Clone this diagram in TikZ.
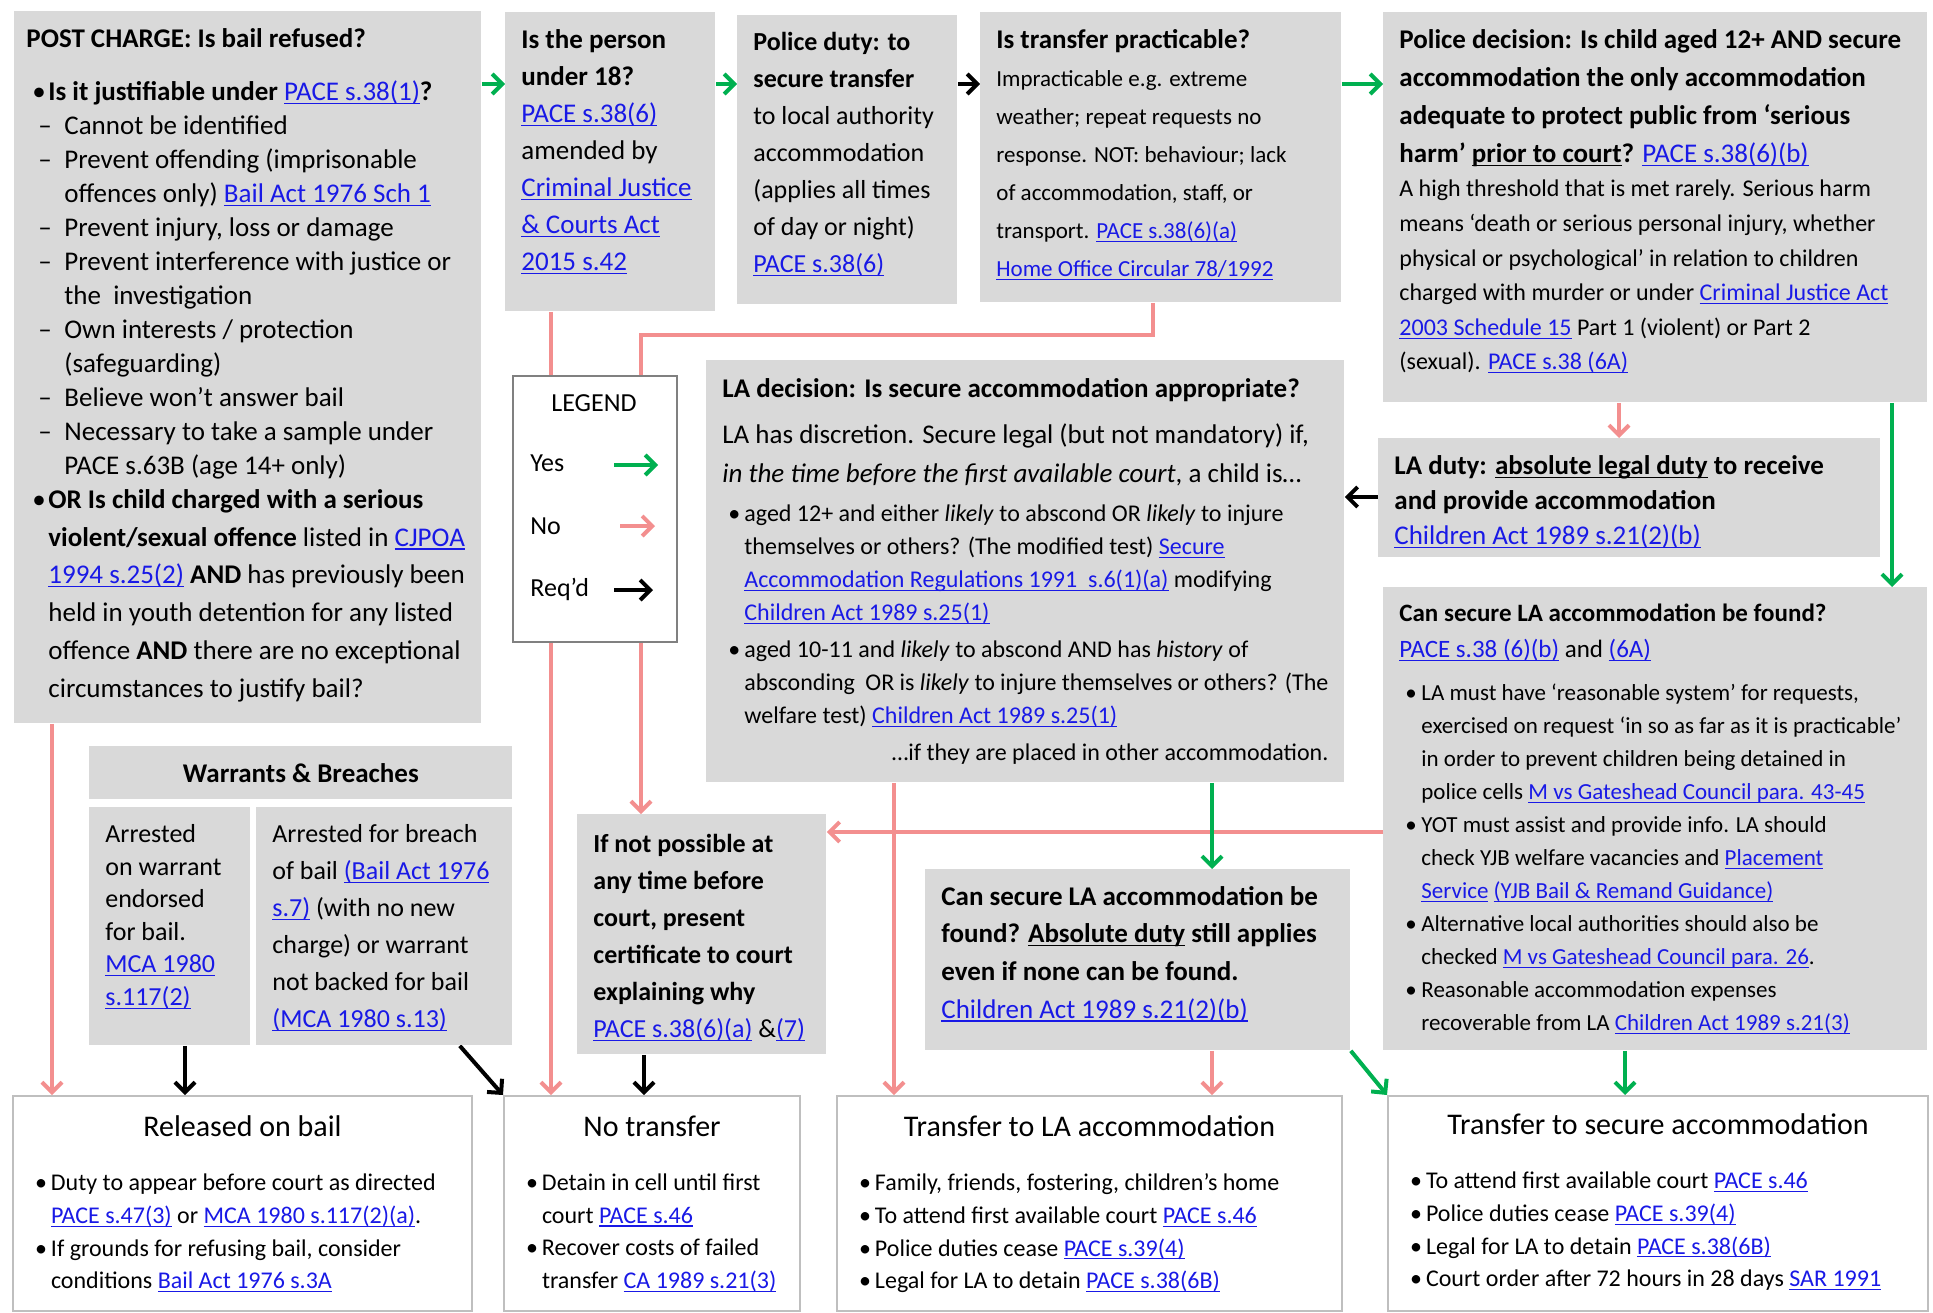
\documentclass[tikz,border=0pt]{standalone}
\usepackage{fontspec}
\setmainfont{Carlito}
\usetikzlibrary{arrows.meta,positioning,backgrounds}

\definecolor{boxgrey}{RGB}{217,217,217}
\definecolor{linkblue}{RGB}{25,25,230}
\definecolor{yesgreen}{RGB}{0,176,80}
\definecolor{nopink}{RGB}{243,143,143}
\definecolor{framegrey}{RGB}{191,191,191}
\definecolor{legendgrey}{RGB}{128,128,128}

\newcommand{\ulin}[1]{\leavevmode\setbox0\hbox{#1}\rlap{\rule[-1.7pt]{\wd0}{0.6pt}}\box0\relax}
\newcommand{\lnk}[1]{\leavevmode{\color{linkblue}\ulin{#1}}}
\newcommand{\boxtext}[3]{\parbox[t][#2][t]{#1}{\raggedright\parskip=0pt\relax\vspace*{2.5pt}#3}}
\newcommand{\bul}{\hspace*{3pt}\makebox[8pt][l]{\textbullet}}
\newcommand{\hangb}{\hspace*{11pt}}
\newcommand{\dsh}{\hspace*{6pt}\makebox[13pt][l]{--}}
\newcommand{\hangd}{\hspace*{19pt}}

\tikzset{>={Straight Barb[length=5pt,width=10pt]}}

\begin{document}
\begin{tikzpicture}[x=0.5pt, y=-0.5pt,
    gbox/.style={fill=boxgrey, anchor=north west, inner xsep=8pt, inner ysep=6pt,
        font=\fontsize{13.5}{17}\selectfont},
    wbox/.style={draw=framegrey, line width=1pt, fill=white, anchor=north west,
        inner xsep=8pt, inner ysep=6pt, font=\fontsize{12}{16.3}\selectfont},
    arr/.style={line width=2pt, ->},
    yesarrow/.style={arr, draw=yesgreen},
    noarrow/.style={arr, draw=nopink},
    reqarrow/.style={arr, draw=black},
    lgtext/.style={anchor=west, inner sep=0pt, font=\fontsize{13}{15}\selectfont}]
    \useasboundingbox (0,0) rectangle (1933,1312);

    % top row
    \node[gbox, inner xsep=6pt] (post) at (14,11) {\boxtext{221.5pt}{344pt}{%
        \textbf{POST CHARGE: Is bail refused?}\par
        \vspace{9.5pt}
        \bul\textbf{Is it justifiable under} \lnk{PACE s.38(1)}\textbf{?}\\
        \dsh Cannot be identified\\
        \dsh Prevent offending (imprisonable\\
        \hangd offences only) \lnk{Bail Act 1976 Sch 1}\\
        \dsh Prevent injury, loss or damage\\
        \dsh Prevent interference with justice or\\
        \hangd the\ \ investigation\\
        \dsh Own interests / protection\\
        \hangd (safeguarding)\\
        \dsh Believe won't answer bail\\
        \dsh Necessary to take a sample under\\
        \hangd PACE s.63B (age 14+ only)\par
        \fontsize{13.5}{18.9}\selectfont\vspace{-1.9pt}
        \bul\textbf{OR Is child charged with a serious}\\
        \hangb\textbf{violent/sexual offence} listed in \lnk{CJPOA}\\
        \hangb\lnk{1994 s.25(2)} \textbf{AND} has previously been\\
        \hangb held in youth detention for any listed\\
        \hangb offence \textbf{AND} there are no exceptional\\
        \hangb circumstances to justify bail?}};
    \node[gbox] (u18) at (505,12) {\boxtext{89pt}{137.5pt}{%
        \fontsize{13.5}{18.5}\selectfont
        \textbf{Is the person}\\
        \textbf{under 18?}\\
        \lnk{PACE s.38(6)}\\
        amended by\\
        \lnk{Criminal Justice}\\
        \lnk{\& Courts Act}\\
        \lnk{2015 s.42}}};
    \node[gbox] (duty) at (737,15) {\boxtext{94pt}{132.5pt}{%
        \fontsize{13}{18.5}\selectfont
        \textbf{Police duty: to}\\
        \textbf{secure transfer}\\
        to local authority\\
        accommodation\\
        (applies all times\\
        of day or night)\\
        \lnk{PACE s.38(6)}}};
    \node[gbox] (pract) at (980,12) {\boxtext{164.5pt}{133pt}{%
        \textbf{Is transfer practicable?}\par
        \fontsize{11.5}{19}\selectfont
        Impracticable e.g. extreme\\
        weather; repeat requests no\\
        response. NOT: behaviour; lack\\
        of accommodation, staff, or\\
        transport. \lnk{PACE s.38(6)(a)}\\
        \lnk{Home Office Circular 78/1992}}};
    \node[gbox] (pdec) at (1383,12) {\boxtext{256pt}{183pt}{%
        \fontsize{13.5}{19}\selectfont
        \textbf{Police decision: Is child aged 12+ AND secure}\\
        \textbf{accommodation the only accommodation}\\
        \textbf{adequate to protect public from `serious}\\
        \textbf{harm' \ulin{prior to court}?} \lnk{PACE s.38(6)(b)}\par
        \fontsize{12}{17.3}\selectfont
        A high threshold that is met rarely. Serious harm\\
        means `death or serious personal injury, whether\\
        physical or psychological' in relation to children\\
        charged with murder or under \lnk{Criminal Justice Act}\\
        \lnk{2003 Schedule 15} Part 1 (violent) or Part 2\\
        (sexual). \lnk{PACE s.38 (6A)}}};

    % middle row
    \node[gbox] (ladec) at (706,360) {\boxtext{303pt}{199pt}{%
        \vspace*{0.5pt}
        \textbf{LA decision: Is secure accommodation appropriate?}\par
        \fontsize{13.5}{19.5}\selectfont\vspace{3.5pt}
        LA has discretion. Secure legal (but not mandatory) if,\\
        \textit{in the time before the first available court}, a child is\dots\par
        \fontsize{12}{16.5}\selectfont\vspace{3pt}
        \bul aged 12+ and either \textit{likely} to abscond OR \textit{likely} to injure\\
        \hangb themselves or others? (The modified test) \lnk{Secure}\\
        \hangb\lnk{Accommodation Regulations 1991\ \ s.6(1)(a)} modifying\\
        \hangb\lnk{Children Act 1989 s.25(1)}\par
        \vspace{2pt}
        \bul aged 10-11 and \textit{likely} to abscond AND has \textit{history} of\\
        \hangb absconding\ \ OR is \textit{likely} to injure themselves or others? (The\\
        \hangb welfare test) \lnk{Children Act 1989 s.25(1)}\par
        \vspace{2pt}
        {\raggedleft\dots if they are placed in other accommodation.\par}}};
    \node[gbox] (laduty) at (1378,438) {\boxtext{235pt}{47.5pt}{%
        \fontsize{13.5}{17.5}\selectfont
        \textbf{LA duty: \ulin{absolute legal duty} to receive}\\
        \textbf{and provide accommodation}\\
        \lnk{Children Act 1989 s.21(2)(b)}}};
    \node[gbox] (secr) at (1383,587) {\boxtext{256pt}{219.5pt}{%
        \fontsize{12.5}{18}\selectfont
        \textbf{Can secure LA accommodation be found?}\\
        \lnk{PACE s.38 (6)(b)} and \lnk{(6A)}\par
        \fontsize{11.5}{16.5}\selectfont\vspace{5pt}
        \bul LA must have `reasonable system' for requests,\\
        \hangb exercised on request `in so as far as it is practicable'\\
        \hangb in order to prevent children being detained in\\
        \hangb police cells \lnk{M vs Gateshead Council para. 43-45}\\
        \bul YOT must assist and provide info. LA should\\
        \hangb check YJB welfare vacancies and \lnk{Placement}\\
        \hangb\lnk{Service} \lnk{(YJB Bail \& Remand Guidance)}\\
        \bul Alternative local authorities should also be\\
        \hangb checked \lnk{M vs Gateshead Council para. 26}.\\
        \bul Reasonable accommodation expenses\\
        \hangb recoverable from LA \lnk{Children Act 1989 s.21(3)}}};

    % warrants and breaches
    \node[gbox, minimum width=211.5pt, minimum height=26.5pt, inner sep=0pt,
        font=\bfseries\fontsize{13.5}{17}\selectfont] (wbhead) at (89,746) {Warrants \& Breaches};
    \node[gbox] (warr) at (89,807) {\boxtext{64.5pt}{107pt}{%
        \fontsize{13}{16.3}\selectfont
        Arrested\\
        on warrant\\
        endorsed\\
        for bail.\\
        \lnk{MCA 1980}\\
        \lnk{s.117(2)}}};
    \node[gbox] (breach) at (256,807) {\boxtext{112pt}{107pt}{%
        \fontsize{13}{18.5}\selectfont
        Arrested for breach\\
        of bail \lnk{(Bail Act 1976}\\
        \lnk{s.7)} (with no new\\
        charge) or warrant\\
        not backed for bail\\
        \lnk{(MCA 1980 s.13)}}};
    \node[gbox] (notposs) at (577,814) {\boxtext{108.5pt}{108pt}{%
        \vspace*{1.5pt}
        \fontsize{13}{18.5}\selectfont
        \textbf{If not possible at}\\
        \textbf{any time before}\\
        \textbf{court, present}\\
        \textbf{certificate to court}\\
        \textbf{explaining why}\\
        \lnk{PACE s.38(6)(a)} \&\lnk{(7)}}};
    \node[gbox] (mids) at (925,869) {\boxtext{196.5pt}{78.5pt}{%
        \fontsize{13.5}{18.8}\selectfont
        \textbf{Can secure LA accommodation be}\\
        \textbf{found? \ulin{Absolute duty} still applies}\\
        \textbf{even if none can be found.}\\
        \lnk{Children Act 1989 s.21(2)(b)}}};

    % outcomes
    \node[wbox] (bail) at (12,1095) {\boxtext{213.5pt}{95.5pt}{%
        \vspace*{1.5pt}
        {\centering\fontsize{15}{18}\selectfont Released on bail\par}
        \vspace{10.7pt}
        \bul Duty to appear before court as directed\\
        \hangb\lnk{PACE s.47(3)} or \lnk{MCA 1980 s.117(2)(a)}.\\
        \bul If grounds for refusing bail, consider\\
        \hangb conditions \lnk{Bail Act 1976 s.3A}}};
    \node[wbox] (notr) at (503,1095) {\boxtext{132pt}{95.5pt}{%
        \vspace*{1.5pt}
        {\centering\fontsize{15}{18}\selectfont No transfer\par}
        \vspace{10.7pt}
        \bul Detain in cell until first\\
        \hangb court \lnk{PACE s.46}\\
        \bul Recover costs of failed\\
        \hangb transfer \lnk{CA 1989 s.21(3)}}};
    \node[wbox] (trla) at (836,1095) {\boxtext{236.5pt}{95.5pt}{%
        \vspace*{1.5pt}
        {\centering\fontsize{15}{18}\selectfont Transfer to LA accommodation\par}
        \vspace{10.7pt}
        \bul Family, friends, fostering, children's home\\
        \bul To attend first available court \lnk{PACE s.46}\\
        \bul Police duties cease \lnk{PACE s.39(4)}\\
        \bul Legal for LA to detain \lnk{PACE s.38(6B)}}};
    \node[wbox] (trsec) at (1387,1095) {\boxtext{254pt}{95.5pt}{%
        \vspace*{0.5pt}
        {\centering\fontsize{15}{18}\selectfont Transfer to secure accommodation\par}
        \vspace{10.7pt}
        \bul To attend first available court \lnk{PACE s.46}\\
        \bul Police duties cease \lnk{PACE s.39(4)}\\
        \bul Legal for LA to detain \lnk{PACE s.38(6B)}\\
        \bul Court order after 72 hours in 28 days \lnk{SAR 1991}}};

    % legend
    \node[draw=legendgrey, line width=1pt, fill=white, anchor=north west,
        minimum width=82pt, minimum height=133pt, inner sep=0pt] (legend) at (512,375) {};
    \node[font=\fontsize{13}{15}\selectfont] (lgtitle) at (594,403) {LEGEND};
    \node[lgtext] (lgyes) at (530,463) {Yes};
    \node[lgtext] (lgno) at (530,526) {No};
    \node[lgtext] (lgreq) at (530,589) {Req'd};
    \coordinate (yesa) at (614,465);
    \coordinate (yesb) at (658,465);
    \coordinate (noa) at (620,526);
    \coordinate (nob) at (655,526);
    \coordinate (reqa) at (614,590);
    \coordinate (reqb) at (653,590);
    \draw[yesarrow] (yesa) -- (yesb);
    \draw[noarrow] (noa) -- (nob);
    \draw[reqarrow] (reqa) -- (reqb);

    % connectors
    \coordinate (rowy) at (0,84);
    \coordinate (xpost) at (52,0);
    \coordinate (xu18) at (551,0);
    \coordinate (bendA) at (1153,335);
    \coordinate (bendB) at (641,335);
    \coordinate (xpdno) at (1619,0);
    \coordinate (xpdyes) at (1892,0);
    \coordinate (dutyy) at (0,497);
    \coordinate (xlad) at (1212,0);
    \coordinate (certy) at (0,832);
    \coordinate (xladno) at (894,0);
    \coordinate (xwarr) at (185,0);
    \coordinate (xcert) at (644,0);
    \coordinate (xsecr) at (1625,0);
    \begin{scope}[on background layer]
        \draw[yesarrow] (post.east |- rowy) -- (u18.west |- rowy);
        \draw[yesarrow] (u18.east |- rowy) -- (duty.west |- rowy);
        \draw[reqarrow] (duty.east |- rowy) -- (pract.west |- rowy);
        \draw[yesarrow] (pract.east |- rowy) -- (pdec.west |- rowy);
        \draw[noarrow] (post.south -| xpost) -- (bail.north -| xpost);
        \draw[noarrow] (u18.south -| xu18) -- (notr.north -| xu18);
        \draw[noarrow] (pract.south -| bendA) -- (bendA) -- (bendB) -- (notposs.north -| bendB);
        \draw[noarrow] (pdec.south -| xpdno) -- (laduty.north -| xpdno);
        \draw[yesarrow] (pdec.south -| xpdyes) -- (secr.north -| xpdyes);
        \draw[reqarrow] (laduty.west |- dutyy) -- (ladec.east |- dutyy);
        \draw[noarrow] (secr.west |- certy) -- (notposs.east |- certy);
        \draw[noarrow] (ladec.south -| xladno) -- (trla.north -| xladno);
        \draw[yesarrow] (ladec.south -| xlad) -- (mids.north -| xlad);
        \draw[noarrow] (mids.south -| xlad) -- (trla.north -| xlad);
        \draw[yesarrow] (mids.south east) -- (trsec.north west);
        \draw[yesarrow] (secr.south -| xsecr) -- (trsec.north -| xsecr);
        \draw[reqarrow] (warr.south -| xwarr) -- (bail.north -| xwarr);
        \draw[reqarrow] ([xshift=-26.5pt]breach.south east) -- (notr.north west);
        \draw[reqarrow] (notposs.south -| xcert) -- (notr.north -| xcert);
    \end{scope}
\end{tikzpicture}
\end{document}
